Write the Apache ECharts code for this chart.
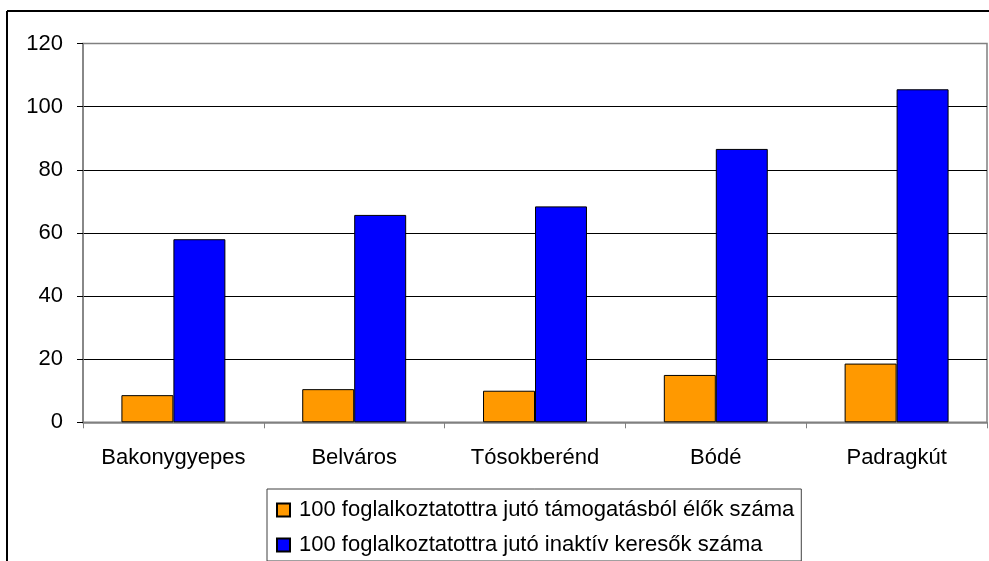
<!DOCTYPE html>
<html>
<head>
<meta charset="utf-8">
<script src="https://cdn.jsdelivr.net/npm/echarts@6/dist/echarts.min.js"></script>
<style>
html,body{margin:0;padding:0;background:#fff;}
#chart{width:989px;height:561px;}
</style>
</head>
<body>
<div id="chart"></div>
<script>
const categories = ['Bakonygyepes', 'Belváros', 'Tósokberénd', 'Bódé', 'Padragkút'];
const seriesNames = ['100 foglalkoztatottra jutó támogatásból élők száma', '100 foglalkoztatottra jutó inaktív keresők száma'];
const supportValues = [8.6, 10.5, 10.0, 15.0, 18.6];
const inactiveValues = [58.0, 65.7, 68.4, 86.6, 105.5];
const yTicks = { min: 0, max: 120, interval: 20 };

const font = 'Liberation Sans, Arial, sans-serif';
const chart = echarts.init(document.getElementById('chart'), null, { renderer: 'canvas' });
chart.setOption({
  backgroundColor: '#fff',
  animation: false,
  graphic: [
    { type: 'line', shape: { x1: 7, y1: 11, x2: 989, y2: 11 }, style: { stroke: '#000', lineWidth: 2 } },
    { type: 'line', shape: { x1: 7, y1: 11, x2: 7, y2: 561 }, style: { stroke: '#000', lineWidth: 2 } }
  ],
  grid: {
    left: 83, top: 43.5, right: 2, bottom: 138.7,
    show: true, borderColor: '#808080', borderWidth: 1.5, backgroundColor: '#fff'
  },
  legend: {
    orient: 'vertical',
    left: 267, top: 489,
    padding: [10, 7, 5, 9],
    borderColor: '#404040', borderWidth: 1,
    backgroundColor: '#fff',
    itemWidth: 13, itemHeight: 13, itemGap: 13,
    icon: 'rect',
    textStyle: { fontFamily: font, fontSize: 22, color: '#000', padding: [0, 0, 0, 4] },
    data: seriesNames
  },
  xAxis: {
    type: 'category',
    data: categories,
    axisLine: { show: true, lineStyle: { color: '#808080', width: 1.5 } },
    axisTick: { show: true, length: 6, lineStyle: { color: '#808080' } },
    axisLabel: { color: '#000', fontFamily: font, fontSize: 22, margin: 25, interval: 0 },
    splitLine: { show: false }
  },
  yAxis: {
    type: 'value',
    min: yTicks.min, max: yTicks.max, interval: yTicks.interval,
    axisLine: { show: true, lineStyle: { color: '#808080', width: 1.5 } },
    axisTick: { show: true, length: 6, lineStyle: { color: '#000' } },
    axisLabel: { color: '#000', fontFamily: font, fontSize: 22, margin: 20 },
    splitLine: { show: true, showMinLine: false, showMaxLine: false, lineStyle: { color: '#000', width: 1 } }
  },
  series: [
    {
      name: seriesNames[0], type: 'bar', data: supportValues,
      barGap: '0%', barCategoryGap: '42.5%',
      itemStyle: { color: '#FF9900', borderColor: '#000', borderWidth: 1 }
    },
    {
      name: seriesNames[1], type: 'bar', data: inactiveValues,
      barGap: '0%', barCategoryGap: '42.5%',
      itemStyle: { color: '#0000FF', borderColor: '#000', borderWidth: 1 }
    }
  ]
});
</script>
</body>
</html>
